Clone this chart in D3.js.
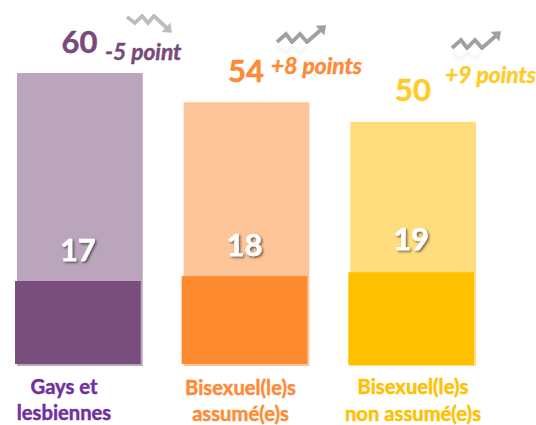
<!DOCTYPE html>
<html><head><meta charset="utf-8">
<script src="https://cdnjs.cloudflare.com/ajax/libs/d3/7.8.5/d3.min.js"></script>
<style>html,body{margin:0;padding:0;background:#fff}svg{display:block}text{font-family:Lato,"Open Sans",sans-serif;font-weight:700}</style>
</head><body><div id="c"></div>
<script>
const categories = ["Gays et lesbiennes","Bisexuel(le)s assumé(e)s","Bisexuel(le)s non assumé(e)s"];
const labelLines = [["Gays et","lesbiennes"],["Bisexuel(le)s","assumé(e)s"],["Bisexuel(le)s","non assumé(e)s"]];
const backValues = [60,54,50];
const frontValues = [17,18,19];
const changes = ["-5 point","+8 points","+9 points"];
const backColors = ["#bba5bc","#fdc498","#ffdd7f"];
const frontColors = ["#7a4e7c","#fe8a30","#ffc000"];
const topColors = ["#784a7a","#fe8a35","#ffcb27"];
const labelColors = ["#7030a0","#fe8a35","#ffc000"];
const trends = ["down","up","up"];

const W=536,H=425;
const svg=d3.select("#c").append("svg").attr("width",W).attr("height",H);
const defs=svg.append("defs");
defs.append("filter").attr("id","blur").append("feGaussianBlur").attr("stdDeviation",0.7);
defs.append("filter").attr("id","blur2").append("feGaussianBlur").attr("stdDeviation",1.6);
const sh=defs.append("filter").attr("id","sh").attr("x","-30%").attr("y","-30%").attr("width","170%").attr("height","170%");
sh.append("feDropShadow").attr("dx",1.5).attr("dy",1.5).attr("stdDeviation",1).attr("flood-color","#000").attr("flood-opacity",0.55);

const y=d3.scaleLinear().domain([0,60]).range([366,73]);
const x=d3.scaleBand().domain(categories).range([17,476]).paddingInner(41/167).paddingOuter(0);
const g=svg.selectAll("g.bar").data(categories).join("g").attr("class","bar");
const bold=s=>s.attr("stroke-width",0.45).attr("paint-order","stroke").attr("stroke-linejoin","round");

g.append("rect").attr("x",d=>x(d)).attr("width",x.bandwidth())
 .attr("y",(d,i)=>y(backValues[i])).attr("height",(d,i)=>y(0)-y(backValues[i]))
 .attr("fill",(d,i)=>backColors[i]);
g.append("rect").attr("x",d=>x(d)-2).attr("width",x.bandwidth())
 .attr("y",(d,i)=>y(frontValues[i])-2+(i==2?1:0)).attr("height",(d,i)=>y(0)-y(frontValues[i]))
 .attr("fill",(d,i)=>frontColors[i]);
// inner values
g.append("text").attr("x",d=>x(d)+x.bandwidth()/2-2).attr("y",(d,i)=>[261,256,250][i])
 .attr("text-anchor","middle").attr("font-size",31).attr("fill","#fff").attr("stroke","#fff").call(bold).attr("filter","url(#sh)")
 .text((d,i)=>frontValues[i]);
// top values
const topX=[79.5,246,413], topY=[53,82,101];
g.append("text").attr("x",(d,i)=>topX[i]).attr("y",(d,i)=>topY[i]).attr("text-anchor","middle")
 .attr("font-size",31).attr("fill",(d,i)=>topColors[i]).attr("stroke",(d,i)=>topColors[i]).call(bold).text((d,i)=>backValues[i]);
// changes
const chX=[105,271,445], chY=[60,74,83];
g.append("text").attr("x",(d,i)=>chX[i]).attr("y",(d,i)=>chY[i]).attr("font-size",22.8)
 .attr("font-style","italic").attr("fill",(d,i)=>topColors[i]).attr("stroke",(d,i)=>topColors[i]).call(bold).text((d,i)=>changes[i]);
// category labels
const labX=[64,240.5,413], labY=[[394,420],[395,421],[394,421]];
g.each(function(d,i){
  const t=d3.select(this);
  labelLines[i].forEach((l,j)=>t.append("text").attr("x",labX[i]).attr("y",labY[i][j])
    .attr("text-anchor","middle").attr("font-size",20.2).attr("fill",labelColors[i]).attr("stroke",labelColors[i]).call(bold).text(l));
});
// trend icons
const shapes={
 down:[[0,0],[8,6],[15,-1],[21,6],[27,-1],[42,13]],
 up:[[0,9],[9,1],[15,9],[23,1],[30,9],[46,-5]]};
const icons=[[127,17],[277,33],[452,39]];
const line=d3.line();
trends.forEach((t,i)=>{
  const ig=svg.append("g").attr("transform",`translate(${icons[i]})`);
  const pts=shapes[t], n=pts.length, e=pts[n-1], p=pts[n-2];
  const a=Math.atan2(e[1]-p[1],e[0]-p[0]);
  const head=[[e[0]+4*Math.cos(a),e[1]+4*Math.sin(a)],
    [e[0]-4*Math.cos(a)-6.5*Math.sin(a),e[1]-4*Math.sin(a)+6.5*Math.cos(a)],
    [e[0]-4*Math.cos(a)+6.5*Math.sin(a),e[1]-4*Math.sin(a)-6.5*Math.cos(a)]];
  if(t==="up"){
    const mirrored=pts.slice(0,5).map(q=>[q[0],22-q[1]]);
    ig.append("path").attr("d",line(mirrored)).attr("fill","none").attr("stroke","#a6a6a6").attr("stroke-width",3).attr("opacity",0.13).attr("filter","url(#blur2)");
  }
  const col=t==="up"?"#a0a0a0":"#bdbdbd";
  const m=ig.append("g").attr("filter","url(#blur)");
  m.append("path").attr("d",line(pts)).attr("fill","none").attr("stroke",col).attr("stroke-width",3.8);
  m.append("path").attr("d",line(head)+"Z").attr("fill",col);
});
</script></body></html>
